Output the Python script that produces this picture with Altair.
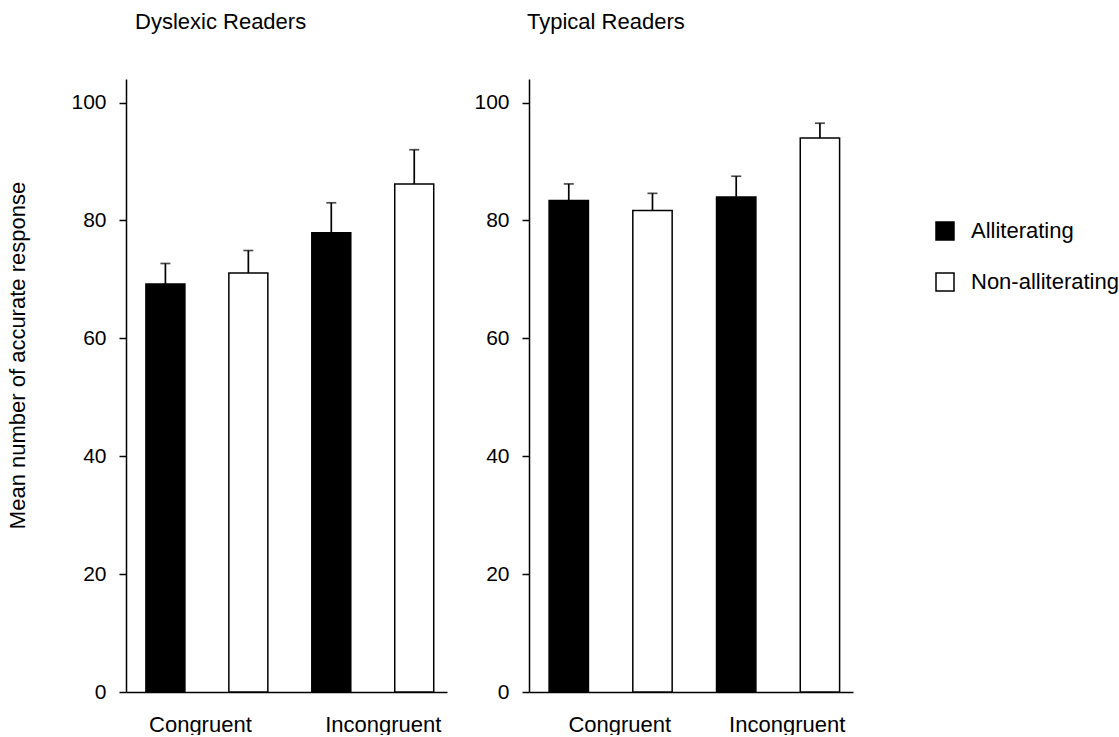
import altair as alt
import pandas as pd

# Conditions and word types, one entry per bar (left to right within each panel)
conditions = ["Congruent", "Congruent", "Incongruent", "Incongruent"]
word_types = ["Alliterating", "Non-alliterating", "Alliterating", "Non-alliterating"]

# Mean number of accurate responses and error-bar extents
dyslexic_means = [69.2, 71.1, 77.9, 86.2]
dyslexic_errors = [3.5, 3.8, 5.1, 5.8]
typical_means = [83.4, 81.7, 84.0, 94.0]
typical_errors = [2.8, 2.9, 3.5, 2.5]

y_ticks = [0, 20, 40, 60, 80, 100]
FONT = "Liberation Sans"


def make_frame(means, errors):
    keys = [f"{c}|{t}" for c, t in zip(conditions, word_types)]
    return pd.DataFrame({
        "key": keys,
        "condition": conditions,
        "type": word_types,
        "mean": means,
        "upper": [m + e for m, e in zip(means, errors)],
    })


def panel(df, title, width, title_dx, y_title, label_offset):
    keys = list(df["key"])
    x = alt.X(
        "key:N",
        sort=keys,
        scale=alt.Scale(domain=keys, paddingInner=0.53, paddingOuter=0.2, align=0.6),
        axis=alt.Axis(
            title=None,
            ticks=False,
            domainColor="black",
            domainWidth=1.5,
            labelFontSize=22,
            labelColor="black",
            labelPadding=22,
            labelAngle=0,
            labelExpr="split(datum.value, '|')[1] == 'Alliterating' ? split(datum.value, '|')[0] : ''",
            labelOffset=label_offset,
        ),
    )
    y_axis_kwargs = dict(
        values=y_ticks,
        tickSize=7,
        tickWidth=1.5,
        tickColor="black",
        domainColor="black",
        domainWidth=1.5,
        labelFontSize=21,
        labelColor="black",
        labelPadding=13,
        grid=False,
    )
    if y_title:
        y_axis_kwargs.update(
            title=y_title,
            titleFontSize=22,
            titleFontWeight="normal",
            titleColor="black",
            titleAngle=270,
            titleX=-109,
            titleY=276,
            titleAlign="center",
            titleBaseline="middle",
        )
    else:
        y_axis_kwargs.update(title=None)
    y_scale = alt.Scale(domain=[0, 104], nice=False, zero=True)
    y = alt.Y("mean:Q", scale=y_scale, axis=alt.Axis(**y_axis_kwargs))

    base = alt.Chart(df)
    whisker = base.mark_rule(color="black", strokeWidth=1.7).encode(
        x=x, y=y, y2="upper:Q"
    )
    cap = base.mark_tick(color="black", size=10, thickness=1.7).encode(
        x=x, y=alt.Y("upper:Q", scale=y_scale)
    )
    bars = base.mark_bar(stroke="black", strokeWidth=1.5).encode(
        x=x,
        y=y,
        fill=alt.Fill(
            "type:N",
            scale=alt.Scale(domain=["Alliterating", "Non-alliterating"], range=["black", "white"]),
            legend=alt.Legend(
                title=None,
                orient="none",
                legendX=808,
                legendY=141,
                symbolType="square",
                symbolSize=324,
                symbolStrokeColor="black",
                symbolStrokeWidth=1.5,
                labelFontSize=22,
                labelFont=FONT,
                labelColor="black",
                labelOffset=15,
                rowPadding=27,
            ),
        ),
    )
    return alt.layer(whisker, cap, bars).properties(
        width=width,
        height=613,
        title=alt.TitleParams(
            text=title,
            anchor="start",
            frame="group",
            dx=title_dx,
            offset=28,
            baseline="alphabetic",
            fontSize=22,
            fontWeight="normal",
            font=FONT,
            color="black",
        ),
    )


left = panel(
    make_frame(dyslexic_means, dyslexic_errors),
    "Dyslexic Readers", 321, 9, "Mean number of accurate response",
    {"condition": {"test": "datum.value == 'Congruent|Alliterating'", "value": 35}, "value": 52},
)
right = panel(
    make_frame(typical_means, typical_errors),
    "Typical Readers", 324, -2, None, 51,
)

chart = (
    alt.hconcat(left, right, spacing=7)
    .properties(padding={"left": 6, "top": 11, "right": 0, "bottom": 0}, background="white")
    .configure_view(strokeWidth=0)
    .configure_axis(labelFont=FONT, titleFont=FONT)
)

chart.save("out.html", embed_options={"renderer": "svg", "actions": False})
